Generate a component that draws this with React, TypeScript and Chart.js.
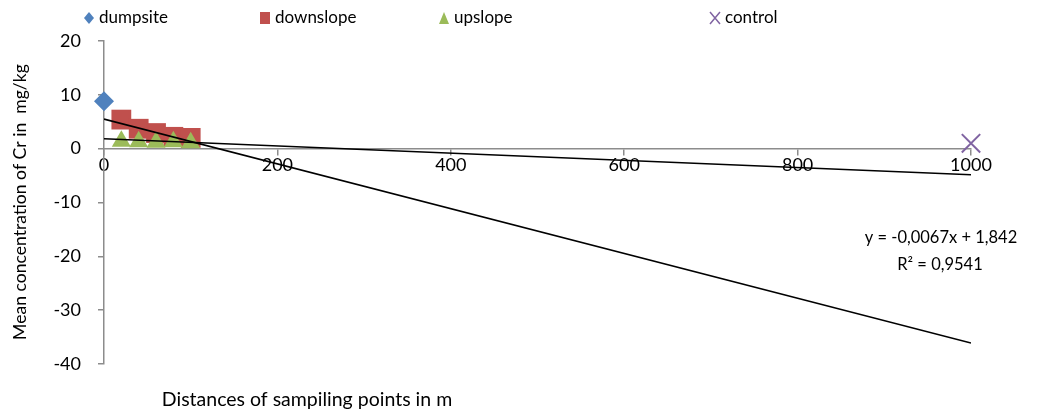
import React, { useEffect, useRef } from "react";
import { Chart, registerables } from "chart.js";

Chart.register(...registerables);

const dumpsiteX = [0];
const dumpsiteY = [8.8];
const downslopeX = [20, 40, 60, 80, 100];
const downslopeY = [5.4, 3.7, 2.9, 2.2, 2.0];
const upslopeX = [20, 40, 60, 80, 100];
const upslopeY = [1.4, 1.3, 1.2, 1.3, 1.1];
const controlX = [1000];
const controlY = [1.0];

const trendSlopes = [-0.0067, -0.0416];
const trendIntercepts = [1.842, 5.5];
const trendRange = [0, 1000];

const yTicks = [-40, -30, -20, -10, 0, 10, 20];
const xTicks = [0, 200, 400, 600, 800, 1000];

const seriesNames = ["dumpsite", "downslope", "upslope", "control"];
const seriesColors = ["#4F81BD", "#C0504D", "#9BBB59", "#8064A2"];

const equationText = ["y = -0,0067x + 1,842", "R² = 0,9541"];
const yTitle = "Mean concentration of Cr in  mg/kg";
const xTitle = "Distances of sampiling points in m";

const FONT = "Lato, 'Open Sans', sans-serif";

const pts = (xs: number[], ys: number[]) => xs.map((x, i) => ({ x, y: ys[i] }));

export default function App() {
  const ref = useRef<HTMLCanvasElement | null>(null);
  useEffect(() => {
    if (!ref.current) return;
    const trendData = trendSlopes.map((m, i) =>
      trendRange.map((x) => ({ x, y: m * x + trendIntercepts[i] }))
    );

    const overlay = {
      id: "overlay",
      afterDraw(chart: any) {
        const ctx = chart.ctx;
        ctx.save();
        ctx.fillStyle = "#000";
        ctx.textAlign = "center";
        ctx.textBaseline = "middle";
        // y title
        ctx.font = `17.6px ${FONT}`;
        ctx.save();
        ctx.translate(20, 202);
        ctx.rotate(-Math.PI / 2);
        ctx.fillText(yTitle, 0, 0);
        ctx.restore();
        // x title
        ctx.font = `19.5px ${FONT}`;
        ctx.fillText(xTitle, 307, 400);
        // equation
        ctx.font = `16.5px ${FONT}`;
        ctx.fillText(equationText[0], 941, 238);
        ctx.fillText(equationText[1], 940, 265);
        // legend
        const legendX = [89, 265, 444, 715];
        const ly = 18;
        ctx.textAlign = "left";
        ctx.font = `17px ${FONT}`;
        seriesNames.forEach((name, i) => {
          const cx = legendX[i];
          ctx.fillStyle = seriesColors[i];
          ctx.strokeStyle = seriesColors[i];
          ctx.beginPath();
          if (i === 0) {
            ctx.moveTo(cx, ly - 6);
            ctx.lineTo(cx + 5, ly);
            ctx.lineTo(cx, ly + 6);
            ctx.lineTo(cx - 5, ly);
            ctx.closePath();
            ctx.fill();
          } else if (i === 1) {
            ctx.rect(cx - 5, ly - 6, 10, 12);
            ctx.fill();
          } else if (i === 2) {
            ctx.moveTo(cx, ly - 6);
            ctx.lineTo(cx + 5, ly + 6);
            ctx.lineTo(cx - 5, ly + 6);
            ctx.closePath();
            ctx.fill();
          } else {
            ctx.lineWidth = 1.5;
            ctx.moveTo(cx - 5, ly - 6);
            ctx.lineTo(cx + 5, ly + 6);
            ctx.moveTo(cx + 5, ly - 6);
            ctx.lineTo(cx - 5, ly + 6);
            ctx.stroke();
          }
          ctx.fillStyle = "#000";
          ctx.fillText(name, cx + 10, ly);
        });
        ctx.restore();
      },
    };

    const chart = new Chart(ref.current, {
      type: "scatter",
      data: {
        datasets: [
          ...trendData.map((d, i) => ({
            type: "line" as const,
            label: "trend" + i,
            data: d,
            borderColor: "#000",
            borderWidth: 1.6,
            pointRadius: 0,
            showLine: true,
            fill: false,
            order: 0,
          })),
          {
            label: seriesNames[0],
            data: pts(dumpsiteX, dumpsiteY),
            pointStyle: "rectRot",
            pointRadius: 10,
            backgroundColor: seriesColors[0],
            borderColor: seriesColors[0],
            borderWidth: 0,
            clip: false,
            order: 4,
          },
          {
            label: seriesNames[1],
            data: pts(downslopeX, downslopeY),
            pointStyle: "rect",
            pointRadius: 14,
            backgroundColor: seriesColors[1],
            borderColor: seriesColors[1],
            borderWidth: 0,
            clip: false,
            order: 3,
          },
          {
            label: seriesNames[2],
            data: pts(upslopeX, upslopeY),
            pointStyle: "triangle",
            pointRadius: 11,
            backgroundColor: seriesColors[2],
            borderColor: seriesColors[2],
            borderWidth: 0,
            clip: false,
            order: 2,
          },
          {
            label: seriesNames[3],
            data: pts(controlX, controlY),
            pointStyle: "crossRot",
            pointRadius: 13,
            backgroundColor: seriesColors[3],
            borderColor: seriesColors[3],
            borderWidth: 2,
            clip: false,
            order: 1,
          },
        ],
      },
      options: {
        animation: false,
        responsive: false,
        maintainAspectRatio: false,
        layout: { padding: { left: 0, right: 79, top: 41, bottom: 48 } },
        plugins: { legend: { display: false }, tooltip: { enabled: false } },
        scales: {
          x: {
            type: "linear",
            min: 0,
            max: 1000,
            position: { y: 0 },
            afterFit: (s: any) => {
              s.height = 0;
            },
            afterBuildTicks: (s: any) => {
              s.ticks = xTicks.map((v) => ({ value: v }));
            },
            border: { color: "#8C8C8C", width: 1.5 },
            grid: {
              drawOnChartArea: false,
              drawTicks: true,
              tickLength: 6,
              color: "#8C8C8C",
              lineWidth: 1.5,
            },
            ticks: {
              color: "#000",
              font: { family: FONT, size: 18 },
              padding: 0,
              maxRotation: 0,
              callback: (v: any) => String(v),
            },
          },
          y: {
            type: "linear",
            min: -40,
            max: 20,
            afterFit: (s: any) => {
              s.width = 104;
            },
            afterBuildTicks: (s: any) => {
              s.ticks = yTicks.map((v) => ({ value: v }));
            },
            border: { color: "#8C8C8C", width: 1.5 },
            grid: {
              drawOnChartArea: false,
              drawTicks: true,
              tickLength: 6,
              color: "#8C8C8C",
              lineWidth: 1.5,
            },
            ticks: {
              color: "#000",
              font: { family: FONT, size: 18 },
              padding: 17,
              callback: (v: any) => String(v),
            },
          },
        },
      },
      plugins: [overlay],
    } as any);
    return () => chart.destroy();
  }, []);

  return (
    <div style={{ position: "fixed", left: 0, top: 0, width: 1050, height: 412, background: "#fff" }}>
      <canvas ref={ref} width={1050} height={412} style={{ width: 1050, height: 412 }} />
    </div>
  );
}
